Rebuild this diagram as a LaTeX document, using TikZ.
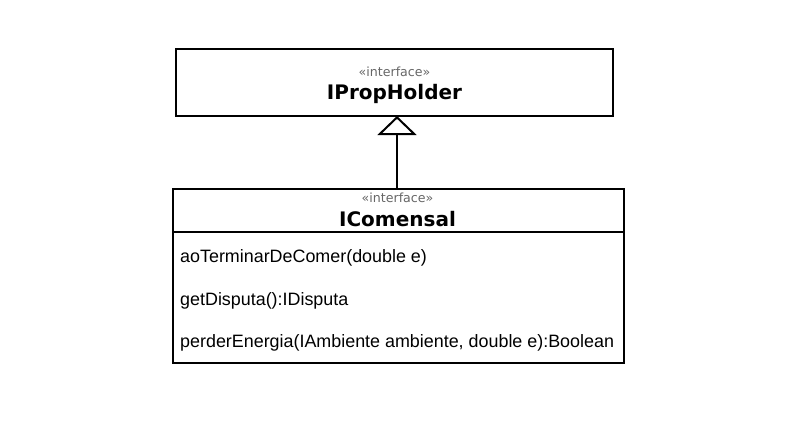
\documentclass[tikz,border=0pt]{standalone}
\usepackage{fontspec}
\setmainfont{Liberation Sans}
\newfontfamily\dejavu{DejaVu Sans}
\usetikzlibrary{arrows.meta}
\definecolor{stereo}{HTML}{666666}
\begin{document}
\begin{tikzpicture}[x=1pt,y=-1pt,
  umlbox/.style={draw=black,line width=2pt,fill=white,inner sep=0pt,outer sep=0pt},
  stereotxt/.style={font=\dejavu\fontsize{12.6}{14}\selectfont,text=stereo,anchor=base,inner sep=0pt},
  titletxt/.style={font=\dejavu\bfseries\fontsize{20}{24}\selectfont,anchor=base,inner sep=0pt},
  methtxt/.style={font=\fontsize{17.9}{21}\selectfont,anchor=base west,inner sep=0pt},
  gen/.style={line width=2pt,-{Triangle[open,length=19pt,width=39pt]}}]
\useasboundingbox (0,0) rectangle (794,447);
\node[umlbox,minimum width=437pt,minimum height=67pt] (iprop) at (394.5,82.5) {};
\node[stereotxt] (st1) at (394.5,76) {«interface»};
\node[titletxt] (t1) at (394.5,99.3) {IPropHolder};
\node[umlbox,minimum width=451pt,minimum height=174pt] (icom) at (398.5,276) {};
\draw[line width=1.5pt] (icom.west |- 0,232) coordinate (dl) -- (icom.east |- 0,232) coordinate (dr);
\node[stereotxt] (st2) at (397.5,202.7) {«interface»};
\node[titletxt] (t2) at (397.5,226.7) {IComensal};
\node[methtxt] (m1) at (180,262.5) {aoTerminarDeComer(double e)};
\node[methtxt] (m2) at (180,305) {getDisputa():IDisputa};
\node[methtxt] (m3) at (180,347) {perderEnergia(IAmbiente ambiente, double e):Boolean};
\draw[gen] (icom.north -| 397,0) -- (iprop.south -| 397,0);
\end{tikzpicture}
\end{document}
